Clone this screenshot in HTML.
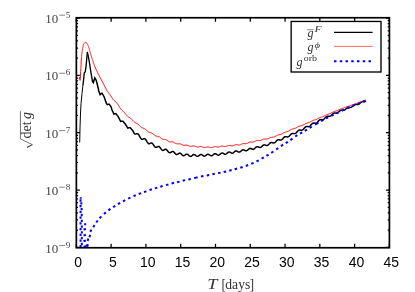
<!DOCTYPE html>
<html><head><meta charset="utf-8"><style>
html,body{margin:0;padding:0;background:#fff;}
body{width:415px;height:292px;overflow:hidden;}
svg{display:block;will-change:transform;}
text{font-family:"Liberation Serif",serif;}
.sans text{font-family:"Liberation Sans",sans-serif;}
</style></head><body>
<svg width="415" height="292" viewBox="0 0 415 292">
<defs><clipPath id="c"><rect x="76.35" y="17.75" width="313.04999999999995" height="230.0"/></clipPath></defs>
<g clip-path="url(#c)" fill="none" stroke-linejoin="round" stroke-linecap="butt">
<path d="M92.40,81.20 L93.30,82.70 L94.10,80.00 L94.80,77.80 L96.20,80.20 L98.20,88.00 L98.70,90.70 L100.10,94.60 L101.10,93.60 L102.00,93.20 L104.00,96.50 L106.40,103.30 L107.30,104.70 L108.40,104.30 L109.30,104.20 L111.20,107.10 L111.90,109.80 L113.10,112.30 L113.90,114.20 L114.90,113.70 L115.80,113.50 L118.20,116.60 L120.60,121.40 L121.80,121.20 L123.00,121.20 L125.40,124.30 L127.80,128.10 L129.00,127.80 L130.20,127.70 L132.70,130.50 L134.10,133.43 L134.45,133.78 L134.80,134.00 L135.15,134.11 L135.50,134.10 L135.85,134.02 L136.20,133.90 L136.55,133.77 L136.90,133.67 L137.25,133.64 L137.60,133.72 L137.95,133.91 L138.30,134.22 L138.65,134.65 L139.00,135.19 L139.35,135.80 L139.70,136.44 L140.05,137.09 L140.40,137.71 L140.75,138.25 L141.10,138.69 L141.45,139.02 L141.80,139.21 L142.15,139.29 L142.50,139.27 L142.85,139.16 L143.20,139.02 L143.55,138.86 L143.90,138.74 L144.25,138.69 L144.60,138.73 L144.95,138.88 L145.30,139.16 L145.65,139.55 L146.00,140.03 L146.35,140.59 L146.70,141.19 L147.05,141.78 L147.40,142.34 L147.75,142.83 L148.10,143.23 L148.45,143.51 L148.80,143.66 L149.15,143.71 L149.50,143.65 L149.85,143.52 L150.20,143.34 L150.55,143.17 L150.90,143.03 L151.25,142.95 L151.60,142.96 L151.95,143.09 L152.30,143.32 L152.65,143.67 L153.00,144.11 L153.35,144.62 L153.70,145.17 L154.05,145.71 L154.40,146.22 L154.75,146.66 L155.10,147.01 L155.45,147.25 L155.80,147.36 L156.15,147.37 L156.50,147.29 L156.85,147.13 L157.20,146.93 L157.55,146.73 L157.90,146.57 L158.25,146.47 L158.60,146.46 L158.95,146.55 L159.30,146.76 L159.65,147.07 L160.00,147.47 L160.35,147.94 L160.70,148.44 L161.05,148.94 L161.40,149.40 L161.75,149.80 L162.10,150.10 L162.45,150.30 L162.80,150.38 L163.15,150.36 L163.50,150.24 L163.85,150.06 L164.20,149.84 L164.55,149.61 L164.90,149.42 L165.25,149.30 L165.60,149.26 L165.95,149.32 L166.30,149.49 L166.65,149.77 L167.00,150.13 L167.35,150.55 L167.70,151.00 L168.05,151.46 L168.40,151.87 L168.75,152.23 L169.10,152.49 L169.45,152.65 L169.80,152.71 L170.15,152.66 L170.50,152.52 L170.85,152.32 L171.20,152.08 L171.55,151.84 L171.90,151.64 L172.25,151.49 L172.60,151.43 L172.95,151.47 L173.30,151.61 L173.65,151.85 L174.00,152.17 L174.35,152.55 L174.70,152.97 L175.05,153.38 L175.40,153.76 L175.75,154.08 L176.10,154.31 L176.45,154.44 L176.80,154.47 L177.15,154.40 L177.50,154.25 L177.85,154.04 L178.20,153.79 L178.55,153.55 L178.90,153.33 L179.25,153.18 L179.60,153.10 L179.95,153.12 L180.30,153.24 L180.65,153.44 L181.00,153.73 L181.35,154.07 L181.70,154.44 L182.05,154.81 L182.40,155.14 L182.75,155.41 L183.10,155.60 L183.45,155.69 L183.80,155.68 L184.15,155.58 L184.50,155.41 L184.85,155.17 L185.20,154.91 L185.55,154.65 L185.90,154.42 L186.25,154.24 L186.60,154.15 L186.95,154.15 L187.30,154.24 L187.65,154.42 L188.00,154.67 L188.35,154.98 L188.70,155.32 L189.05,155.65 L189.40,155.94 L189.75,156.18 L190.10,156.34 L190.45,156.40 L190.80,156.37 L191.15,156.24 L191.50,156.04 L191.85,155.78 L192.20,155.49 L192.55,155.20 L192.90,154.94 L193.25,154.73 L193.60,154.60 L193.95,154.56 L194.30,154.61 L194.65,154.74 L195.00,154.95 L195.35,155.21 L195.70,155.49 L196.05,155.77 L196.40,156.02 L196.75,156.21 L197.10,156.33 L197.45,156.36 L197.80,156.31 L198.15,156.17 L198.50,155.95 L198.85,155.69 L199.20,155.40 L199.55,155.12 L199.90,154.86 L200.25,154.66 L200.60,154.53 L200.95,154.48 L201.30,154.52 L201.65,154.64 L202.00,154.84 L202.35,155.08 L202.70,155.34 L203.05,155.61 L203.40,155.84 L203.75,156.02 L204.10,156.13 L204.45,156.15 L204.80,156.08 L205.15,155.94 L205.50,155.72 L205.85,155.45 L206.20,155.16 L206.55,154.87 L206.90,154.60 L207.25,154.40 L207.60,154.26 L207.95,154.20 L208.30,154.24 L208.65,154.35 L209.00,154.53 L209.35,154.76 L209.70,155.02 L210.05,155.27 L210.40,155.49 L210.75,155.66 L211.10,155.75 L211.45,155.77 L211.80,155.69 L212.15,155.53 L212.50,155.31 L212.85,155.03 L213.20,154.73 L213.55,154.44 L213.90,154.17 L214.25,153.95 L214.60,153.80 L214.95,153.74 L215.30,153.76 L215.65,153.86 L216.00,154.03 L216.35,154.25 L216.70,154.48 L217.05,154.72 L217.40,154.92 L217.75,155.08 L218.10,155.16 L218.45,155.15 L218.80,155.07 L219.15,154.90 L219.50,154.66 L219.85,154.38 L220.20,154.07 L220.55,153.77 L220.90,153.49 L221.25,153.26 L221.60,153.10 L221.95,153.03 L222.30,153.04 L222.65,153.12 L223.00,153.27 L223.35,153.47 L223.70,153.69 L224.05,153.90 L224.40,154.09 L224.75,154.22 L225.10,154.28 L225.45,154.26 L225.80,154.16 L226.15,153.97 L226.50,153.73 L226.85,153.43 L227.20,153.11 L227.55,152.80 L227.90,152.51 L228.25,152.28 L228.60,152.12 L228.95,152.04 L229.30,152.05 L229.65,152.13 L230.00,152.27 L230.35,152.46 L230.70,152.68 L231.05,152.89 L231.40,153.06 L231.75,153.19 L232.10,153.25 L232.45,153.22 L232.80,153.12 L233.15,152.93 L233.50,152.68 L233.85,152.39 L234.20,152.07 L234.55,151.76 L234.90,151.47 L235.25,151.24 L235.60,151.08 L235.95,151.00 L236.30,151.00 L236.65,151.07 L237.00,151.21 L237.35,151.39 L237.70,151.59 L238.05,151.79 L238.40,151.96 L238.75,152.08 L239.10,152.12 L239.45,152.09 L239.80,151.97 L240.15,151.78 L240.50,151.52 L240.85,151.22 L241.20,150.90 L241.55,150.59 L241.90,150.30 L242.25,150.06 L242.60,149.90 L242.95,149.81 L243.30,149.80 L243.65,149.86 L244.00,149.99 L244.35,150.16 L244.70,150.35 L245.05,150.54 L245.40,150.69 L245.75,150.79 L246.10,150.83 L246.45,150.78 L246.80,150.65 L247.15,150.45 L247.50,150.19 L247.85,149.88 L248.20,149.55 L248.55,149.23 L248.90,148.93 L249.25,148.68 L249.60,148.51 L249.95,148.40 L250.30,148.38 L250.65,148.43 L251.00,148.54 L251.35,148.70 L251.70,148.87 L252.05,149.04 L252.40,149.17 L252.75,149.25 L253.10,149.27 L253.45,149.21 L253.80,149.06 L254.15,148.85 L254.50,148.57 L254.85,148.25 L255.20,147.91 L255.55,147.57 L255.90,147.27 L256.25,147.01 L256.60,146.83 L256.95,146.72 L257.30,146.68 L257.65,146.72 L258.00,146.82 L258.35,146.96 L258.70,147.13 L259.05,147.28 L259.40,147.40 L259.75,147.48 L260.10,147.48 L260.45,147.41 L260.80,147.26 L261.15,147.04 L261.50,146.76 L261.85,146.43 L262.20,146.09 L262.55,145.76 L262.90,145.45 L263.25,145.19 L263.60,145.00 L263.95,144.88 L264.30,144.84 L264.65,144.87 L265.00,144.96 L265.35,145.08 L265.70,145.22 L266.05,145.35 L266.40,145.46 L266.75,145.51 L267.10,145.49 L267.45,145.40 L267.80,145.22 L268.15,144.98 L268.50,144.67 L268.85,144.32 L269.20,143.96 L269.55,143.60 L269.90,143.26 L270.25,142.97 L270.60,142.75 L270.95,142.60 L271.30,142.52 L271.65,142.52 L272.00,142.56 L272.35,142.65 L272.70,142.75 L273.05,142.84 L273.40,142.90 L273.75,142.92 L274.10,142.86 L274.45,142.74 L274.80,142.54 L275.15,142.27 L275.50,141.94 L275.85,141.58 L276.20,141.20 L276.55,140.83 L276.90,140.48 L277.25,140.19 L277.60,139.96 L277.95,139.80 L278.30,139.72 L278.65,139.70 L279.00,139.74 L279.35,139.81 L279.70,139.90 L280.05,139.97 L280.40,140.02 L280.75,140.02 L281.10,139.95 L281.45,139.82 L281.80,139.61 L282.15,139.33 L282.50,138.99 L282.85,138.62 L283.20,138.24 L283.55,137.86 L283.90,137.51 L284.25,137.20 L284.60,136.96 L284.95,136.79 L285.30,136.69 L285.65,136.66 L286.00,136.68 L286.35,136.74 L286.70,136.81 L287.05,136.87 L287.40,136.90 L287.75,136.89 L288.10,136.81 L288.45,136.66 L288.80,136.44 L289.15,136.16 L289.50,135.82 L289.85,135.44 L290.20,135.05 L290.55,134.67 L290.90,134.32 L291.25,134.01 L291.60,133.77 L291.95,133.59 L292.30,133.49 L292.65,133.44 L293.00,133.45 L293.35,133.50 L293.70,133.56 L294.05,133.61 L294.40,133.63 L294.75,133.60 L295.10,133.52 L295.45,133.36 L295.80,133.13 L296.15,132.84 L296.50,132.50 L296.85,132.12 L297.20,131.73 L297.55,131.34 L297.90,130.99 L298.25,130.68 L298.60,130.43 L298.95,130.25 L299.30,130.13 L299.65,130.08 L300.00,130.08 L300.35,130.11 L300.70,130.15 L301.05,130.19 L301.40,130.19 L301.75,130.15 L302.10,130.05 L302.45,129.89 L302.80,129.65 L303.15,129.36 L303.50,129.01 L303.85,128.63 L304.20,128.24 L304.55,127.85 L304.90,127.50 L305.25,127.19 L305.60,126.93 L305.95,126.75 L306.30,126.63 L306.65,126.57 L307.00,126.56 L307.35,126.59 L307.70,126.62 L308.05,126.65 L308.40,126.65 L308.75,126.61 L309.10,126.50 L309.45,126.34 L309.80,126.10 L310.15,125.81 L310.50,125.47 L310.85,125.09 L311.20,124.71 L311.55,124.33 L311.90,123.98 L312.25,123.68 L312.60,123.44 L312.95,123.26 L313.30,123.14 L313.65,123.09 L314.00,123.08 L314.35,123.10 L314.70,123.14 L315.05,123.17 L315.40,123.16 L315.75,123.12 L316.10,123.01 L316.45,122.85 L316.80,122.61 L317.15,122.32 L317.50,121.99 L317.85,121.62 L318.20,121.24 L318.55,120.87 L318.90,120.53 L319.25,120.23 L319.60,119.99 L319.95,119.81 L320.30,119.69 L320.65,119.63 L321.00,119.62 L321.35,119.64 L321.70,119.66 L322.05,119.68 L322.40,119.67 L322.75,119.62 L323.10,119.51 L323.45,119.35 L323.80,119.12 L324.15,118.83 L324.50,118.50 L324.85,118.14 L325.20,117.78 L325.55,117.42 L325.90,117.09 L326.25,116.80 L326.60,116.57 L326.95,116.40 L327.30,116.29 L327.65,116.23 L328.00,116.22 L328.35,116.24 L328.70,116.26 L329.05,116.28 L329.40,116.27 L329.75,116.23 L330.10,116.12 L330.45,115.96 L330.80,115.75 L331.15,115.48 L331.50,115.17 L331.85,114.83 L332.20,114.49 L332.55,114.15 L332.90,113.84 L333.25,113.58 L333.60,113.36 L333.95,113.21 L334.30,113.11 L334.65,113.07 L335.00,113.06 L335.35,113.08 L335.70,113.12 L336.05,113.14 L336.40,113.14 L336.75,113.10 L337.10,113.01 L337.45,112.86 L337.80,112.66 L338.15,112.41 L338.50,112.12 L338.85,111.80 L339.20,111.48 L339.55,111.16 L339.90,110.88 L340.25,110.63 L340.60,110.43 L340.95,110.29 L341.30,110.20 L341.65,110.16 L342.00,110.16 L342.35,110.18 L342.70,110.21 L343.05,110.23 L343.40,110.23 L343.75,110.19 L344.10,110.10 L344.45,109.96 L344.80,109.77 L345.15,109.53 L345.50,109.25 L345.85,108.95 L346.20,108.64 L346.55,108.35 L346.90,108.07 L347.25,107.83 L347.60,107.64 L347.95,107.51 L348.30,107.42 L348.65,107.38 L349.00,107.37 L349.35,107.39 L349.70,107.41 L350.05,107.43 L350.40,107.42 L350.75,107.37 L351.10,107.28 L351.45,107.14 L351.80,106.95 L352.15,106.71 L352.50,106.44 L352.85,106.15 L353.20,105.85 L353.55,105.56 L353.90,105.29 L354.25,105.06 L354.60,104.87 L354.95,104.73 L355.30,104.64 L355.65,104.59 L356.00,104.57 L356.35,104.58 L356.70,104.59 L357.05,104.59 L357.40,104.57 L357.75,104.52 L358.10,104.42 L358.45,104.27 L358.80,104.08 L359.15,103.85 L359.50,103.59 L359.85,103.30 L360.20,103.01 L360.55,102.73 L360.90,102.47 L361.25,102.24 L361.60,102.06 L361.95,101.92 L362.30,101.82 L362.65,101.77 L363.00,101.75 L363.35,101.74 L363.70,101.75 L364.05,101.74 L364.40,101.71 L364.75,101.65 L365.10,101.55 L365.45,101.41 L365.80,101.22 L366.10,101.03" stroke="#000" stroke-width="1.5" stroke-linejoin="miter"/>
<path d="M87.40,52.40 L88.10,55.50 L89.00,60.00 L90.50,69.60 L92.40,81.20" stroke="#000" stroke-width="1.35" stroke-linecap="round" stroke-linejoin="miter"/>
<path d="M83.10,84.00 L83.85,77.30 L84.30,72.80 L85.20,72.00 L86.10,65.80 L86.80,58.00 L87.40,52.40" stroke="#000" stroke-width="1.35" stroke-linejoin="miter" stroke-linecap="round"/>
<path d="M79.70,142.40 L80.00,128.00 L80.55,112.00 L81.05,103.30 L82.00,93.60 L83.10,84.00" stroke="#000" stroke-width="1.0" stroke-linejoin="miter"/>
<path d="M79.50,77.00 L79.60,78.10 L79.70,79.00 L79.80,79.60 L79.90,79.99 L80.00,80.28 L80.10,80.40 L80.20,79.85 L80.30,78.54 L80.40,77.00 L80.50,75.06 L80.60,73.00 L80.70,71.45 L80.80,70.05 L80.90,68.50 L81.00,66.47 L81.10,64.13 L81.20,61.87 L81.30,60.10 L81.40,58.76 L81.50,57.52 L81.60,56.37 L81.70,55.32 L81.80,54.34 L81.90,53.44 L82.00,52.62 L82.10,51.85 L82.20,51.15 L82.30,50.50 L82.40,49.88 L82.50,49.29 L82.60,48.71 L82.70,48.15 L82.80,47.62 L82.90,47.12 L83.00,46.64 L83.10,46.19 L83.20,45.77 L83.30,45.39 L83.40,45.03 L83.50,44.72 L83.60,44.44 L83.70,44.20 L83.80,43.99 L83.90,43.79 L84.00,43.60 L84.10,43.42 L84.20,43.26 L84.30,43.12 L84.40,42.99 L84.50,42.87 L84.60,42.78 L84.70,42.70 L84.80,42.63 L84.90,42.57 L85.00,42.51 L85.10,42.45 L85.20,42.40 L85.30,42.36 L85.40,42.33 L85.50,42.31 L85.60,42.30 L85.70,42.31 L85.80,42.34 L85.90,42.38 L86.00,42.43 L86.10,42.49 L86.20,42.56 L86.30,42.64 L86.40,42.72 L86.50,42.80 L86.60,42.89 L86.70,43.00 L86.80,43.12 L86.90,43.26 L87.00,43.41 L87.10,43.57 L87.20,43.73 L87.30,43.90 L87.40,44.07 L87.50,44.26 L87.60,44.46 L87.70,44.66 L87.80,44.88 L87.90,45.10 L88.00,45.34 L88.10,45.58 L88.20,45.83 L88.30,46.08 L88.40,46.34 L88.50,46.60 L88.60,46.87 L88.70,47.16 L88.80,47.46 L88.90,47.77 L89.00,48.09 L89.10,48.42 L89.20,48.76 L89.30,49.10 L89.40,49.45 L89.50,49.80 L89.60,50.16 L89.70,50.52 L89.80,50.88 L89.90,51.24 L90.00,51.59 L90.10,51.95 L90.20,52.29 L90.30,52.64 L90.40,52.97 L90.50,53.30 L90.60,53.62 L90.70,53.94 L90.80,54.27 L90.90,54.59 L91.00,54.91 L91.10,55.22 L91.20,55.54 L91.30,55.86 L91.40,56.18 L91.50,56.49 L91.60,56.81 L91.70,57.12 L91.80,57.43 L91.90,57.74 L92.00,58.05 L92.10,58.36 L92.20,58.67 L92.30,58.98 L92.40,59.29 L92.50,59.59 L92.60,59.90 L92.70,60.20 L92.80,60.50 L92.90,60.80 L93.00,61.11 L93.10,61.40 L93.20,61.70 L93.30,62.00 L93.40,62.30 L93.50,62.60 L93.60,62.90 L93.70,63.20 L93.80,63.50 L93.90,63.80 L94.00,64.10 L94.10,64.40 L94.20,64.69 L94.30,64.99 L94.40,65.28 L94.50,65.57 L94.60,65.85 L94.70,66.13 L94.80,66.41 L94.90,66.68 L95.00,66.95 L95.50,68.17 L96.00,69.29 L96.50,70.35 L97.00,71.37 L97.50,72.36 L98.00,73.33 L98.50,74.30 L99.00,75.26 L99.50,76.22 L100.00,77.19 L100.50,78.17 L101.00,79.13 L101.50,80.07 L102.00,81.01 L102.50,81.94 L103.00,82.89 L103.50,83.84 L104.00,84.82 L104.50,85.83 L105.00,86.85 L105.50,87.86 L106.00,88.84 L106.50,89.76 L107.00,90.61 L107.50,91.38 L108.00,92.08 L108.50,92.74 L109.00,93.38 L109.50,94.04 L110.00,94.72 L110.50,95.45 L111.00,96.23 L111.50,97.02 L112.00,97.80 L112.50,98.56 L113.00,99.26 L113.50,99.86 L114.00,100.39 L114.50,100.84 L115.00,101.25 L115.50,101.66 L116.00,102.11 L116.50,102.61 L117.00,103.18 L117.50,103.83 L118.00,104.54 L118.50,105.32 L119.00,106.13 L119.50,106.96 L120.00,107.76 L120.50,108.50 L121.00,109.17 L121.50,109.76 L122.00,110.27 L122.50,110.73 L123.00,111.17 L123.50,111.63 L124.00,112.13 L124.50,112.68 L125.00,113.27 L125.50,113.90 L126.00,114.53 L126.50,115.14 L127.00,115.70 L127.50,116.20 L128.00,116.63 L128.50,116.99 L129.00,117.31 L129.50,117.60 L130.00,117.90 L130.50,118.24 L131.00,118.63 L131.50,119.09 L132.00,119.60 L132.50,120.15 L133.00,120.71 L133.50,121.25 L134.00,121.75 L134.50,122.18 L135.00,122.54 L135.50,122.83 L136.00,123.07 L136.50,123.30 L137.00,123.54 L137.50,123.81 L138.00,124.15 L138.50,124.55 L139.00,125.01 L139.50,125.52 L140.00,126.03 L140.50,126.53 L141.00,126.98 L141.50,127.36 L142.00,127.66 L142.50,127.90 L143.00,128.09 L143.50,128.26 L144.00,128.44 L144.50,128.67 L145.00,128.96 L145.50,129.32 L146.00,129.75 L146.50,130.21 L147.00,130.69 L147.50,131.15 L148.00,131.56 L148.50,131.90 L149.00,132.16 L149.50,132.34 L150.00,132.48 L150.50,132.60 L151.00,132.73 L151.50,132.91 L152.00,133.15 L152.50,133.47 L153.00,133.85 L153.50,134.28 L154.00,134.72 L154.50,135.14 L155.00,135.51 L155.50,135.80 L156.00,136.02 L156.50,136.16 L157.00,136.26 L157.50,136.34 L158.00,136.43 L158.50,136.56 L159.00,136.77 L159.50,137.04 L160.00,137.37 L160.50,137.75 L161.00,138.14 L161.50,138.50 L162.00,138.82 L162.50,139.07 L163.00,139.23 L163.50,139.33 L164.00,139.38 L164.50,139.41 L165.00,139.46 L165.50,139.56 L166.00,139.72 L166.50,139.95 L167.00,140.24 L167.50,140.58 L168.00,140.93 L168.50,141.25 L169.00,141.52 L169.50,141.72 L170.00,141.84 L170.50,141.89 L171.00,141.89 L171.50,141.87 L172.00,141.87 L172.50,141.92 L173.00,142.04 L173.50,142.23 L174.00,142.48 L174.50,142.78 L175.00,143.09 L175.50,143.37 L176.00,143.60 L176.50,143.76 L177.00,143.85 L177.50,143.86 L178.00,143.82 L178.50,143.77 L179.00,143.73 L179.50,143.74 L180.00,143.82 L180.50,143.97 L181.00,144.18 L181.50,144.44 L182.00,144.71 L182.50,144.95 L183.00,145.15 L183.50,145.27 L184.00,145.32 L184.50,145.29 L185.00,145.23 L185.50,145.14 L186.00,145.08 L186.50,145.06 L187.00,145.11 L187.50,145.23 L188.00,145.41 L188.50,145.64 L189.00,145.88 L189.50,146.09 L190.00,146.25 L190.50,146.34 L191.00,146.35 L191.50,146.30 L192.00,146.20 L192.50,146.09 L193.00,145.99 L193.50,145.95 L194.00,145.97 L194.50,146.07 L195.00,146.23 L195.50,146.43 L196.00,146.65 L196.50,146.84 L197.00,146.98 L197.50,147.05 L198.00,147.04 L198.50,146.97 L199.00,146.85 L199.50,146.71 L200.00,146.60 L200.50,146.53 L201.00,146.53 L201.50,146.62 L202.00,146.76 L202.50,146.95 L203.00,147.15 L203.50,147.33 L204.00,147.46 L204.50,147.51 L205.00,147.49 L205.50,147.40 L206.00,147.27 L206.50,147.12 L207.00,146.99 L207.50,146.91 L208.00,146.90 L208.50,146.96 L209.00,147.08 L209.50,147.24 L210.00,147.41 L210.50,147.55 L211.00,147.63 L211.50,147.63 L212.00,147.56 L212.50,147.41 L213.00,147.22 L213.50,147.01 L214.00,146.82 L214.50,146.69 L215.00,146.62 L215.50,146.62 L216.00,146.69 L216.50,146.80 L217.00,146.92 L217.50,147.02 L218.00,147.06 L218.50,147.04 L219.00,146.95 L219.50,146.80 L220.00,146.60 L220.50,146.39 L221.00,146.21 L221.50,146.07 L222.00,146.01 L222.50,146.02 L223.00,146.10 L223.50,146.22 L224.00,146.34 L224.50,146.45 L225.00,146.50 L225.50,146.48 L226.00,146.39 L226.50,146.23 L227.00,146.03 L227.50,145.82 L228.00,145.63 L228.50,145.49 L229.00,145.42 L229.50,145.42 L230.00,145.49 L230.50,145.60 L231.00,145.72 L231.50,145.82 L232.00,145.86 L232.50,145.83 L233.00,145.73 L233.50,145.56 L234.00,145.35 L234.50,145.12 L235.00,144.92 L235.50,144.77 L236.00,144.69 L236.50,144.69 L237.00,144.74 L237.50,144.84 L238.00,144.94 L238.50,145.02 L239.00,145.04 L239.50,144.99 L240.00,144.86 L240.50,144.66 L241.00,144.42 L241.50,144.16 L242.00,143.93 L242.50,143.74 L243.00,143.62 L243.50,143.57 L244.00,143.58 L244.50,143.63 L245.00,143.68 L245.50,143.71 L246.00,143.68 L246.50,143.59 L247.00,143.42 L247.50,143.19 L248.00,142.93 L248.50,142.66 L249.00,142.42 L249.50,142.23 L250.00,142.10 L250.50,142.04 L251.00,142.04 L251.50,142.07 L252.00,142.11 L252.50,142.12 L253.00,142.08 L253.50,141.98 L254.00,141.82 L254.50,141.59 L255.00,141.33 L255.50,141.07 L256.00,140.83 L256.50,140.63 L257.00,140.50 L257.50,140.44 L258.00,140.43 L258.50,140.45 L259.00,140.49 L259.50,140.50 L260.00,140.46 L260.50,140.37 L261.00,140.22 L261.50,140.02 L262.00,139.78 L262.50,139.55 L263.00,139.33 L263.50,139.16 L264.00,139.05 L264.50,139.00 L265.00,138.99 L265.50,139.02 L266.00,139.05 L266.50,139.05 L267.00,139.01 L267.50,138.91 L268.00,138.75 L268.50,138.54 L269.00,138.29 L269.50,138.03 L270.00,137.79 L270.50,137.59 L271.00,137.43 L271.50,137.33 L272.00,137.27 L272.50,137.23 L273.00,137.19 L273.50,137.12 L274.00,137.01 L274.50,136.84 L275.00,136.62 L275.50,136.35 L276.00,136.05 L276.50,135.74 L277.00,135.45 L277.50,135.20 L278.00,135.00 L278.50,134.85 L279.00,134.75 L279.50,134.67 L280.00,134.59 L280.50,134.50 L281.00,134.36 L281.50,134.17 L282.00,133.93 L282.50,133.64 L283.00,133.33 L283.50,133.01 L284.00,132.71 L284.50,132.45 L285.00,132.23 L285.50,132.05 L286.00,131.92 L286.50,131.80 L287.00,131.69 L287.50,131.56 L288.00,131.40 L288.50,131.18 L289.00,130.93 L289.50,130.63 L290.00,130.32 L290.50,130.00 L291.00,129.70 L291.50,129.43 L292.00,129.21 L292.50,129.03 L293.00,128.89 L293.50,128.77 L294.00,128.66 L294.50,128.53 L295.00,128.36 L295.50,128.16 L296.00,127.92 L296.50,127.64 L297.00,127.34 L297.50,127.05 L298.00,126.76 L298.50,126.51 L299.00,126.30 L299.50,126.13 L300.00,125.99 L300.50,125.87 L301.00,125.76 L301.50,125.62 L302.00,125.46 L302.50,125.26 L303.00,125.02 L303.50,124.75 L304.00,124.46 L304.50,124.17 L305.00,123.90 L305.50,123.66 L306.00,123.44 L306.50,123.27 L307.00,123.12 L307.50,122.99 L308.00,122.86 L308.50,122.71 L309.00,122.54 L309.50,122.33 L310.00,122.09 L310.50,121.82 L311.00,121.54 L311.50,121.26 L312.00,120.98 L312.50,120.74 L313.00,120.52 L313.50,120.34 L314.00,120.18 L314.50,120.03 L315.00,119.89 L315.50,119.73 L316.00,119.55 L316.50,119.34 L317.00,119.10 L317.50,118.83 L318.00,118.56 L318.50,118.28 L319.00,118.02 L319.50,117.78 L320.00,117.56 L320.50,117.38 L321.00,117.21 L321.50,117.06 L322.00,116.91 L322.50,116.74 L323.00,116.56 L323.50,116.35 L324.00,116.11 L324.50,115.86 L325.00,115.59 L325.50,115.33 L326.00,115.07 L326.50,114.84 L327.00,114.62 L327.50,114.43 L328.00,114.26 L328.50,114.10 L329.00,113.94 L329.50,113.77 L330.00,113.58 L330.50,113.37 L331.00,113.14 L331.50,112.89 L332.00,112.64 L332.50,112.39 L333.00,112.14 L333.50,111.91 L334.00,111.70 L334.50,111.50 L335.00,111.32 L335.50,111.15 L336.00,110.98 L336.50,110.80 L337.00,110.61 L337.50,110.40 L338.00,110.17 L338.50,109.94 L339.00,109.70 L339.50,109.46 L340.00,109.24 L340.50,109.03 L341.00,108.84 L341.50,108.66 L342.00,108.50 L342.50,108.35 L343.00,108.19 L343.50,108.03 L344.00,107.86 L344.50,107.68 L345.00,107.49 L345.50,107.28 L346.00,107.08 L346.50,106.87 L347.00,106.68 L347.50,106.49 L348.00,106.32 L348.50,106.15 L349.00,105.99 L349.50,105.84 L350.00,105.69 L350.50,105.53 L351.00,105.36 L351.50,105.18 L352.00,105.00 L352.50,104.81 L353.00,104.61 L353.50,104.42 L354.00,104.23 L354.50,104.05 L355.00,103.87 L355.50,103.69 L356.00,103.53 L356.50,103.36 L357.00,103.19 L357.50,103.02 L358.00,102.84 L358.50,102.66 L359.00,102.48 L359.50,102.29 L360.00,102.10 L360.50,101.91 L361.00,101.73 L361.50,101.54 L362.00,101.37 L362.50,101.19 L363.00,101.01 L363.50,100.84 L364.00,100.66 L364.50,100.48 L365.00,100.30 L365.50,100.12 L366.00,99.94 L366.10,99.90" stroke="#ff0000" stroke-width="1.0"/>
<path d="M87.27,246.74 L87.53,244.26 M87.69,240.91 L88.31,238.49 M89.42,237.29 L90.18,234.91 M90.37,231.85 L91.33,229.55 M93.21,227.24 L94.59,225.16 M96.26,222.50 L97.74,220.50 M99.64,218.21 L101.36,216.39 M103.95,214.02 L105.85,212.38 M108.39,210.33 L110.41,208.87 M113.14,207.16 L115.26,205.84 M118.02,204.23 L120.18,202.97 M123.00,201.29 L125.20,200.11 M128.17,198.64 L130.43,197.56 M133.45,196.19 L135.75,195.21 M138.73,194.04 L141.07,193.16 M144.02,192.12 L146.38,191.28 M149.52,190.10 L151.88,189.30 M154.90,188.37 L157.30,187.63 M160.30,186.75 L162.70,186.05 M166.00,185.15 L168.40,184.45 M171.59,183.42 L174.01,182.78 M177.09,182.20 L179.51,181.60 M182.68,180.69 L185.12,180.11 M188.38,179.47 L190.82,178.93 M194.15,178.10 L197.65,177.30 M200.98,176.55 L203.42,176.05 M206.78,175.46 L209.22,174.94 M212.38,174.15 L214.82,173.65 M218.07,173.13 L220.53,172.67 M223.68,172.07 L226.12,171.53 M229.24,170.72 L231.66,170.08 M234.69,169.23 L237.11,168.57 M240.30,167.77 L242.70,167.03 M245.83,165.94 L248.17,165.06 M251.25,163.80 L253.55,162.80 M256.49,161.47 L258.71,160.33 M261.62,158.62 L263.78,157.38 M266.43,155.85 L268.57,154.55 M271.26,152.89 L273.34,151.51 M276.18,149.52 L278.22,148.08 M280.95,146.09 L283.05,144.71 M285.75,143.17 L287.85,141.83 M290.38,140.12 L292.42,138.68 M295.25,136.48 L297.35,135.12 M300.02,133.73 L302.18,132.47 M304.83,130.85 L306.97,129.55 M309.63,127.95 L311.77,126.65 M315.16,124.56 L318.44,122.64 M321.21,121.11 L323.39,119.89 M325.99,118.47 L328.21,117.33 M331.28,115.85 L333.52,114.75 M336.57,113.24 L338.83,112.16 M341.87,110.72 L344.13,109.68 M347.16,108.32 L349.44,107.28 M352.44,105.87 L354.76,104.93 M357.74,103.97 L360.06,103.03 M363.06,101.62 L365.34,100.58 M80.74,197.30 L80.77,198.75 M81.31,202.25 L81.34,204.55 M81.59,208.05 L81.62,210.35 M81.72,213.85 L81.75,216.15 M81.79,219.65 L81.82,221.95 M81.82,225.45 L81.85,227.75 M81.84,231.25 L81.87,233.55 M81.84,237.05 L81.87,239.35 M81.85,242.85 L81.88,245.15 M81.85,248.65 L81.88,250.95 M80.55,199.35 L80.55,201.65 M80.55,205.07 L80.55,207.37 M80.55,210.79 L80.55,213.09 M80.55,216.51 L80.55,218.81 M80.55,222.23 L80.55,224.53 M80.55,227.95 L80.55,230.25 M80.55,233.67 L80.55,235.97 M80.55,239.39 L80.55,241.69 M80.55,245.11 L80.55,247.41 M85.2,223.2 L85.1,225.3" stroke="#0000ff" stroke-width="2.0"/>
<path d="M84.45,228.30 L84.95,230.30 M84.45,234.10 L84.95,236.10 M84.45,239.90 L84.95,241.90 M84.45,245.60 L84.95,247.60 M87.1,244.6 L87.1,246.5" stroke="#0000ff" stroke-width="2.5"/>
</g>
<path d="M76.35,247.75 v-4.0 M76.35,17.75 v3.9 M111.13,247.75 v-4.0 M111.13,17.75 v3.9 M145.92,247.75 v-4.0 M145.92,17.75 v3.9 M180.70,247.75 v-4.0 M180.70,17.75 v3.9 M215.48,247.75 v-4.0 M215.48,17.75 v3.9 M250.27,247.75 v-4.0 M250.27,17.75 v3.9 M285.05,247.75 v-4.0 M285.05,17.75 v3.9 M319.83,247.75 v-4.0 M319.83,17.75 v3.9 M354.62,247.75 v-4.0 M354.62,17.75 v3.9 M389.40,247.75 v-4.0 M389.40,17.75 v3.9 M76.35,247.30 h3.5 M389.4,247.30 h-3.5 M76.35,230.05 h1.7 M389.4,230.05 h-1.7 M76.35,219.96 h1.7 M389.4,219.96 h-1.7 M76.35,212.80 h1.7 M389.4,212.80 h-1.7 M76.35,207.25 h1.7 M389.4,207.25 h-1.7 M76.35,202.71 h1.7 M389.4,202.71 h-1.7 M76.35,198.88 h1.7 M389.4,198.88 h-1.7 M76.35,195.55 h1.7 M389.4,195.55 h-1.7 M76.35,192.62 h1.7 M389.4,192.62 h-1.7 M76.35,190.00 h3.5 M389.4,190.00 h-3.5 M76.35,172.75 h1.7 M389.4,172.75 h-1.7 M76.35,162.66 h1.7 M389.4,162.66 h-1.7 M76.35,155.50 h1.7 M389.4,155.50 h-1.7 M76.35,149.95 h1.7 M389.4,149.95 h-1.7 M76.35,145.41 h1.7 M389.4,145.41 h-1.7 M76.35,141.58 h1.7 M389.4,141.58 h-1.7 M76.35,138.25 h1.7 M389.4,138.25 h-1.7 M76.35,135.32 h1.7 M389.4,135.32 h-1.7 M76.35,132.70 h3.5 M389.4,132.70 h-3.5 M76.35,115.45 h1.7 M389.4,115.45 h-1.7 M76.35,105.36 h1.7 M389.4,105.36 h-1.7 M76.35,98.20 h1.7 M389.4,98.20 h-1.7 M76.35,92.65 h1.7 M389.4,92.65 h-1.7 M76.35,88.11 h1.7 M389.4,88.11 h-1.7 M76.35,84.28 h1.7 M389.4,84.28 h-1.7 M76.35,80.95 h1.7 M389.4,80.95 h-1.7 M76.35,78.02 h1.7 M389.4,78.02 h-1.7 M76.35,75.40 h3.5 M389.4,75.40 h-3.5 M76.35,58.15 h1.7 M389.4,58.15 h-1.7 M76.35,48.06 h1.7 M389.4,48.06 h-1.7 M76.35,40.90 h1.7 M389.4,40.90 h-1.7 M76.35,35.35 h1.7 M389.4,35.35 h-1.7 M76.35,30.81 h1.7 M389.4,30.81 h-1.7 M76.35,26.98 h1.7 M389.4,26.98 h-1.7 M76.35,23.65 h1.7 M389.4,23.65 h-1.7 M76.35,20.72 h1.7 M389.4,20.72 h-1.7 M76.35,18.10 h3.5 M389.4,18.10 h-3.5" stroke="#000" stroke-width="1.25" fill="none"/>
<rect x="76.35" y="17.75" width="313.04999999999995" height="230.0" fill="none" stroke="#000" stroke-width="1.7"/>
<!-- legend -->
<rect x="291.15" y="21.45" width="89.85" height="50.55" fill="#fff" stroke="#000" stroke-width="1.35"/>
<path d="M334,32.4 H372.6" stroke="#000" stroke-width="1.3"/>
<path d="M334,46.35 H372.6" stroke="#ff0000" stroke-width="0.6"/>
<path d="M334,61.2 H372.6" stroke="#0000ff" stroke-width="2.0" stroke-dasharray="2.5 3.25"/>
<g fill="#333" font-size="12">
<text x="307.5" y="36.6" font-style="italic">g</text>
<path d="M307.2,29.75 H313.5" stroke="#333" stroke-width="0.65"/>
<text x="314.6" y="32.2" font-size="8.5" font-style="italic" textLength="7.1" lengthAdjust="spacingAndGlyphs">F</text>
<text x="307.5" y="51.2" font-style="italic">g</text>
<text x="314.6" y="47.6" font-size="8.5" font-style="italic" textLength="5.6" lengthAdjust="spacingAndGlyphs">ϕ</text>
<text x="296.4" y="65.7" font-style="italic">g</text>
<text x="303.8" y="61.2" font-size="9" textLength="13.3" lengthAdjust="spacingAndGlyphs">orb</text>
</g>
<!-- tick labels -->
<g class="sans" fill="#000" font-size="14"><text x="78.15" y="266.7" text-anchor="middle">0</text><text x="112.93" y="266.7" text-anchor="middle">5</text><text x="147.72" y="266.7" text-anchor="middle">10</text><text x="182.50" y="266.7" text-anchor="middle">15</text><text x="217.28" y="266.7" text-anchor="middle">20</text><text x="252.07" y="266.7" text-anchor="middle">25</text><text x="286.85" y="266.7" text-anchor="middle">30</text><text x="321.63" y="266.7" text-anchor="middle">35</text><text x="356.42" y="266.7" text-anchor="middle">40</text><text x="391.20" y="266.7" text-anchor="middle">45</text></g>
<g fill="#444" font-size="13"><g transform="translate(58.3,252.75) scale(1,1.035)"><text x="0" y="0" text-anchor="end">10</text></g><path d="M59.2,245.55 h5.8" stroke="#444" stroke-width="0.65"/><text x="65.7" y="247.75" font-size="9.2">9</text><g transform="translate(58.3,195.00) scale(1,1.035)"><text x="0" y="0" text-anchor="end">10</text></g><path d="M59.2,187.20 h5.8" stroke="#444" stroke-width="0.65"/><text x="65.7" y="189.90" font-size="9.2">8</text><g transform="translate(58.3,137.80) scale(1,1.035)"><text x="0" y="0" text-anchor="end">10</text></g><path d="M59.2,130.60 h5.8" stroke="#444" stroke-width="0.65"/><text x="65.7" y="132.60" font-size="9.2">7</text><g transform="translate(58.3,79.75) scale(1,1.035)"><text x="0" y="0" text-anchor="end">10</text></g><path d="M59.2,73.25 h5.8" stroke="#444" stroke-width="0.65"/><text x="65.7" y="75.35" font-size="9.2">6</text><g transform="translate(58.3,23.00) scale(1,1.035)"><text x="0" y="0" text-anchor="end">10</text></g><path d="M59.2,15.20 h5.8" stroke="#444" stroke-width="0.65"/><text x="65.7" y="18.00" font-size="9.2">5</text></g>
<!-- axis labels -->
<g fill="#333">
<g transform="translate(0,288.85) scale(1,1.1)"><g transform="translate(207.3,0) scale(1.36,1)"><text x="0" y="0" font-size="13.5" font-style="italic">T</text></g>
<text x="221.6" y="0" font-size="13">[</text><text x="225.3" y="0" font-size="13" textLength="25.0" lengthAdjust="spacingAndGlyphs">days</text><text x="249.7" y="0" font-size="13">]</text></g>
<g transform="translate(31,137) rotate(-90)">
<text x="-1.5" y="0" font-size="14" textLength="17.2" lengthAdjust="spacingAndGlyphs">det</text>
<text x="18.0" y="0" font-size="14" font-style="italic">g</text>
<path d="M-10.5,-4.0 L-7.65,1.4" fill="none" stroke="#333" stroke-width="1.05"/>
<path d="M-7.65,1.4 L-1.9,-10.55 H25.8" fill="none" stroke="#333" stroke-width="0.7"/>
</g>
</g>
</svg>
</body></html>
